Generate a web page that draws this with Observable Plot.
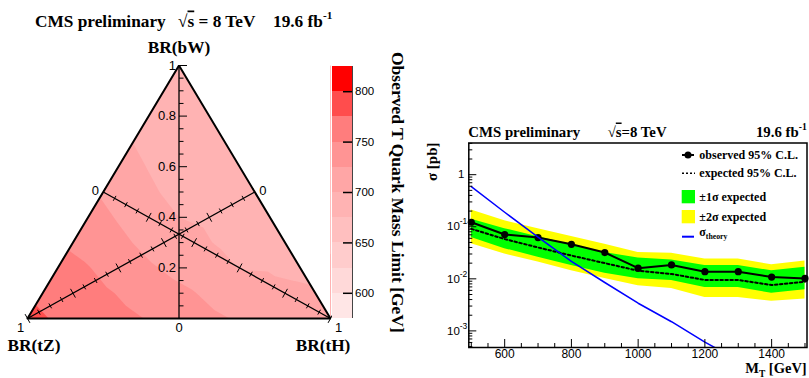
<!DOCTYPE html>
<html><head><meta charset="utf-8">
<script src="https://cdn.jsdelivr.net/npm/d3@7"></script>
<script src="https://cdn.jsdelivr.net/npm/@observablehq/plot@0.6"></script>
<style>
html,body{margin:0;padding:0;background:#fff;}
#root{position:relative;width:809px;height:378px;overflow:hidden;background:#fff;}
#root > svg{position:absolute;left:0;top:0;}
</style></head><body><div id="root"></div>
<script>
// ---------------- DATA ----------------
// Ternary limit map: rows of BR(tZ) = 0, 0.1, ... 1 ; within a row BR(tH) = 0, 0.1, ... (1 - BR(tZ))
const brTZRows = [0, 0.1, 0.2, 0.3, 0.4, 0.5, 0.6, 0.7, 0.8, 0.9, 1.0];
const limitRows = [
  [692, 692, 692, 693, 693, 694, 695, 696, 698, 701, 705],
  [694, 694, 694, 695, 695, 696, 697, 699, 702, 709],
  [697, 696, 696, 697, 698, 698, 699.5, 706, 715],
  [699.5, 699, 698.5, 700, 703, 706, 713, 722],
  [710, 709, 710, 713, 719, 726, 731],
  [722, 723, 724.5, 728, 733, 740],
  [736, 737, 740, 745, 749],
  [747, 751, 753, 755],
  [757, 760, 763],
  [769, 772],
  [782]
];
const colorBandLows = [575, 600, 625, 650, 675, 700, 725, 750, 775, 800];
const colorThresholds = [600, 625, 650, 675, 700, 725, 750, 775, 800];
const bandColors = ["#ffe6e6", "#ffd9d9", "#ffcccc", "#ffbfbf", "#ffb3b3", "#ffa6a6", "#ff9494", "#ff7d7d", "#ff4d4d", "#ff0000"];
const colorTicks = [600, 650, 700, 750, 800];
const ternaryTickLabels = [0.2, 0.4, 0.6, 0.8, 1];

// Cross-section limits
const masses = [500, 600, 700, 800, 900, 1000, 1100, 1200, 1300, 1400, 1500];
const observed = [0.122, 0.071, 0.062, 0.046, 0.032, 0.016, 0.0185, 0.0137, 0.0137, 0.0108, 0.0102];
const expected = [0.091, 0.058, 0.040, 0.028, 0.020, 0.0143, 0.0124, 0.0095, 0.0095, 0.0076, 0.0088];
const oneSigmaLow = [0.062, 0.038, 0.026, 0.018, 0.0128, 0.0100, 0.0093, 0.0068, 0.0068, 0.0053, 0.0062];
const oneSigmaHigh = [0.140, 0.092, 0.064, 0.045, 0.032, 0.025, 0.023, 0.018, 0.018, 0.0143, 0.0166];
const twoSigmaLow = [0.047, 0.030, 0.021, 0.0143, 0.0102, 0.0074, 0.0065, 0.0044, 0.0044, 0.0037, 0.0041];
const twoSigmaHigh = [0.21, 0.13, 0.092, 0.065, 0.046, 0.032, 0.031, 0.024, 0.024, 0.0187, 0.022];
const theoryMasses = [500, 600, 700, 800, 900, 1000, 1100, 1200, 1300];
const theoryXsec = [0.59, 0.19, 0.063, 0.0216, 0.0085, 0.0034, 0.0015, 0.00061, 0.00027];
const xTickLabels = [600, 800, 1000, 1200, 1400];
const yDecadeLabels = [0.001, 0.01, 0.1];
const yDecadeExponents = ["-3", "-2", "-1"];

// ---------------- LAYOUT ----------------
const W = 809, H = 378;
const SANS = "'Liberation Sans', Arial, Helvetica, sans-serif";
const SERIF = "'Liberation Serif', 'Times New Roman', serif";
const root = document.getElementById("root");
const baseStyle = {background: "transparent", overflow: "visible", fontFamily: SANS, fontSize: "12px"};

// ---------- Ternary plot ----------
const tm = {left: 27, right: W - 330, top: 65, bottom: H - 318};
const fw = W - tm.left - tm.right, fh = H - tm.top - tm.bottom;
const kx = fw / 2, ky = fh; // px per data unit
const toXY = (tZ, tH) => ({x: tH - tZ, y: 1 - tZ - tH});

const grid = [];
limitRows.forEach((row, i) => row.forEach((m, j) => {
  const tZ = brTZRows[i], tH = j / 10;
  grid.push({x: tH - tZ, y: Math.max(0, (10 - Math.round(tZ * 10) - j) / 10), m});
}));

const vBW = toXY(0, 0), vTZ = toXY(1, 0), vTH = toXY(0, 1);
const axisBW = v => toXY((1 - v) / 2, (1 - v) / 2);
const axisTZ = t => toXY(t, (1 - t) / 2);
const axisTH = t => toXY((1 - t) / 2, t);

const tickVals = d3.range(0, 21).map(i => ({t: i / 20, major: i % 4 === 0}));
const segs = [];
for (const {t, major} of tickVals) {
  const p = axisBW(t), len = major ? 8 : 4.5;
  segs.push({x1: p.x, y1: p.y, x2: p.x + len / kx, y2: p.y});
}
function crossTicks(f) {
  const a = f(0), b = f(1);
  const ux = (b.x - a.x) * kx, uy = -(b.y - a.y) * ky;
  const n = Math.hypot(ux, uy);
  const nx = -uy / n, ny = ux / n;
  for (const {t, major} of tickVals) {
    const p = f(t), h = major ? 5 : 2.8;
    segs.push({x1: p.x - nx * h / kx, y1: p.y + ny * h / ky, x2: p.x + nx * h / kx, y2: p.y - ny * h / ky});
  }
}
crossTicks(axisTZ); crossTicks(axisTH);

const axisLines = [
  {a: axisBW(0), b: axisBW(1)},
  {a: axisTZ(0), b: axisTZ(1)},
  {a: axisTH(0), b: axisTH(1)}
];
const endLabels = [
  {...axisBW(0), text: "0", dx: 0, dy: 9},
  {...axisTZ(1), text: "1", dx: -7, dy: 9},
  {...axisTZ(0), text: "0", dx: 8, dy: -1.5},
  {...axisTH(1), text: "1", dx: 8, dy: 9},
  {...axisTH(0), text: "0", dx: -8, dy: -1.5}
];
const brLabels = [
  {...vBW, text: "BR(bW)", dx: 0, dy: -18},
  {...vTZ, text: "BR(tZ)", dx: 6.5, dy: 27},
  {...vTH, text: "BR(tH)", dx: -7.5, dy: 27}
];

const ternary = Plot.plot({
  width: W, height: H,
  marginLeft: tm.left, marginRight: tm.right, marginTop: tm.top, marginBottom: tm.bottom,
  x: {domain: [-1, 1], axis: null},
  y: {domain: [0, 1], axis: null},
  color: {type: "threshold", domain: colorThresholds, range: bandColors},
  style: baseStyle,
  marks: [
    Plot.contour(grid, {x: "x", y: "y", fill: "m", thresholds: colorBandLows, interpolate: "barycentric",
      x1: -1, x2: 1, y1: 0, y2: 1, pixelSize: 1, stroke: "none"}),
    Plot.areaY([vTZ, vBW], {x: "x", y1: "y", y2: 1, fill: "white"}),
    Plot.areaY([vBW, vTH], {x: "x", y1: "y", y2: 1, fill: "white"}),
    Plot.link(axisLines, {x1: d => d.a.x, y1: d => d.a.y, x2: d => d.b.x, y2: d => d.b.y, stroke: "black", strokeWidth: 1.3}),
    Plot.link(segs, {x1: "x1", y1: "y1", x2: "x2", y2: "y2", stroke: "black", strokeWidth: 1}),
    Plot.line([vTZ, vBW, vTH, vTZ], {x: "x", y: "y", stroke: "black", strokeWidth: 2, strokeLinejoin: "miter"}),
    Plot.text(ternaryTickLabels, {x: v => axisBW(v).x, y: v => axisBW(v).y, text: v => String(v), dx: -3, textAnchor: "end", fontSize: 13, fontFamily: SANS}),
    ...endLabels.map(d => Plot.text([d], {x: "x", y: "y", text: "text", dx: d.dx, dy: d.dy, fontSize: 13, fontFamily: SANS})),
    ...brLabels.map(d => Plot.text([d], {x: "x", y: "y", text: "text", dx: d.dx, dy: d.dy, fontSize: 17.3, fontFamily: SERIF, fontWeight: "bold"}))
  ]
});
root.appendChild(ternary);

// ---------- Colour bar ----------
const colorbar = Plot.plot({
  width: W, height: H,
  marginLeft: 332, marginRight: W - 352, marginTop: 66, marginBottom: H - 318,
  x: {domain: [0, 1], axis: null},
  y: {domain: [575, 825], axis: null},
  color: {type: "threshold", domain: colorThresholds, range: bandColors},
  style: baseStyle,
  marks: [
    Plot.rect(colorBandLows, {y1: d => d, y2: d => d + 25, fill: d => d, shapeRendering: "crispEdges"}),
    Plot.ruleX([1], {stroke: "#444", strokeWidth: 1}),
    Plot.tickY(colorTicks, {y: d => d, insetLeft: 11, stroke: "black", strokeWidth: 1.5}),
    Plot.text(colorTicks, {y: d => d, text: d => String(d), frameAnchor: "right", dx: 2.5, textAnchor: "start", fontSize: 11.5, fontFamily: SANS})
  ]
});
root.appendChild(colorbar);

// ---------- Cross-section limit plot ----------
const rm = {left: 468.3, right: W - 806.5, top: 142.5, bottom: H - 347};
const rfw = W - rm.left - rm.right, rfh = H - rm.top - rm.bottom;
const limits = masses.map((m, i) => ({m, obs: observed[i], exp: expected[i],
  g1: oneSigmaLow[i], g2: oneSigmaHigh[i], y1: twoSigmaLow[i], y2: twoSigmaHigh[i]}));
const theory = theoryMasses.map((m, i) => ({m, s: theoryXsec[i]}));
const xMinor = d3.range(500, 1501, 50).filter(v => v % 200 !== 0);
const yMajor = [0.001, 0.01, 0.1, 1];
const yMinor = [];
for (let k = -4; k <= 0; k++) for (let j = 2; j <= 9; j++) {
  const v = j * Math.pow(10, k);
  if (v >= 4.8e-4 && v <= 4.06) yMinor.push(v);
}

const limitPlot = Plot.plot({
  width: W, height: H,
  marginLeft: rm.left, marginRight: rm.right, marginTop: rm.top, marginBottom: rm.bottom,
  x: {domain: [492.5, 1506], axis: null},
  y: {type: "log", domain: [4.8e-4, 4.06], axis: null},
  style: baseStyle,
  marks: [
    Plot.areaY(limits, {x: "m", y1: "y1", y2: "y2", fill: "#ffff00"}),
    Plot.areaY(limits, {x: "m", y1: "g1", y2: "g2", fill: "#00ff00"}),
    Plot.line(limits, {x: "m", y: "exp", stroke: "black", strokeWidth: 2, strokeDasharray: "2.5,2.5"}),
    Plot.line(limits, {x: "m", y: "obs", stroke: "black", strokeWidth: 2}),
    Plot.dot(limits, {x: "m", y: "obs", r: 3.6, fill: "black"}),
    Plot.line(theory, {x: "m", y: "s", stroke: "#0000ff", strokeWidth: 1.5, clip: true}),
    Plot.tickX(xTickLabels, {x: d => d, insetTop: rfh - 8, stroke: "black"}),
    Plot.tickX(xMinor, {x: d => d, insetTop: rfh - 4, stroke: "black"}),
    Plot.tickY(yMajor, {y: d => d, insetRight: rfw - 8, stroke: "black"}),
    Plot.tickY(yMinor, {y: d => d, insetRight: rfw - 4, stroke: "black"}),
    Plot.frame({stroke: "black", strokeWidth: 1.5}),
    Plot.text(xTickLabels, {x: d => d, text: d => String(d), frameAnchor: "bottom", lineAnchor: "top", dy: 1.5, fontSize: 12, fontFamily: SANS}),
    Plot.text(yDecadeLabels, {y: d => d, text: () => "10", frameAnchor: "left", dx: -9, textAnchor: "end", fontSize: 11.5, fontFamily: SANS}),
    Plot.text(yDecadeLabels, {y: d => d, text: (d, i) => yDecadeExponents[i], frameAnchor: "left", dx: -1.5, dy: -5, textAnchor: "end", fontSize: 8.5, fontFamily: SANS}),
    Plot.text([1], {y: d => d, text: () => "1", frameAnchor: "left", dx: -4.5, textAnchor: "end", fontSize: 11.5, fontFamily: SANS})
  ]
});
root.appendChild(limitPlot);

// ---------- Titles, labels and legend ----------
const ov = d3.select(root).append("svg").attr("width", W).attr("height", H).style("overflow", "visible");
function rich(x, y, parts, size, {anchor = "start", rotate = 0, family = SERIF, weight = "bold"} = {}) {
  const t = ov.append("text").attr("transform", `translate(${x},${y}) rotate(${rotate})`)
    .attr("font-family", family).attr("font-weight", weight).attr("font-size", size).attr("text-anchor", anchor);
  let shift = 0;
  for (const p of parts) {
    const s = t.append("tspan").text(p.t);
    const target = p.sup ? -0.42 * size : p.sub ? 0.3 * size : 0;
    if (target !== shift) { s.attr("dy", target - shift); shift = target; }
    if (p.sup || p.sub) s.attr("font-size", size * 0.65);
    if (p.over) s.attr("text-decoration", "overline");
  }
  return t;
}
rich(35, 26.5, [{t: "CMS preliminary"}], 17.3);
rich(178, 26.5, [{t: "√"}, {t: "s", over: true}, {t: " = 8 TeV"}], 17.3);
rich(273, 26.5, [{t: "19.6 fb"}, {t: "-1", sup: true}], 17.3);
rich(392, 52, [{t: "Observed T Quark Mass Limit [GeV]"}], 17.5, {rotate: 90});
rich(468.3, 136.5, [{t: "CMS preliminary"}], 14.8);
rich(607.7, 136.5, [{t: "√"}, {t: "s", over: true}, {t: "=8 TeV"}], 14.8);
rich(806.7, 136.5, [{t: "19.6 fb"}, {t: "-1", sup: true}], 14.8, {anchor: "end"});
rich(437, 142.5, [{t: "σ [pb]"}], 15, {rotate: -90, anchor: "end"});
rich(806.7, 373, [{t: "M"}, {t: "T", sub: true}, {t: " [GeV]"}], 14.5, {anchor: "end"});

const lg = ov.append("g");
lg.append("line").attr("x1", 682).attr("x2", 694).attr("y1", 155).attr("y2", 155).attr("stroke", "black").attr("stroke-width", 2);
lg.append("circle").attr("cx", 688).attr("cy", 155).attr("r", 3.5).attr("fill", "black");
lg.append("line").attr("x1", 682).attr("x2", 695).attr("y1", 173.3).attr("y2", 173.3).attr("stroke", "black").attr("stroke-width", 1.5).attr("stroke-dasharray", "2,2");
lg.append("rect").attr("x", 681.7).attr("y", 190).attr("width", 13.3).attr("height", 13.3).attr("fill", "#00ff00");
lg.append("rect").attr("x", 681.7).attr("y", 210).attr("width", 13.3).attr("height", 13.3).attr("fill", "#ffff00");
lg.append("line").attr("x1", 682).attr("x2", 694).attr("y1", 236.7).attr("y2", 236.7).attr("stroke", "#0000ff").attr("stroke-width", 2);
rich(699.3, 159, [{t: "observed 95% C.L."}], 12);
rich(699.3, 177.3, [{t: "expected 95% C.L."}], 12);
rich(699.3, 200.7, [{t: "±1σ expected"}], 12);
rich(699.3, 220.7, [{t: "±2σ expected"}], 12);
rich(699.3, 235.5, [{t: "σ"}, {t: "theory", sub: true}], 12);
</script></body></html>
